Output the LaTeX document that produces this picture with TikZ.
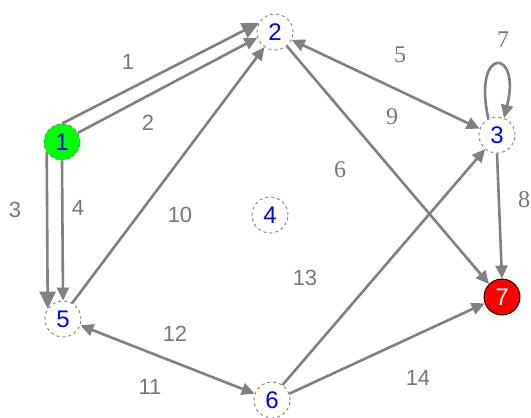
\documentclass[tikz,border=0pt]{standalone}
\usepackage{fontspec}
\setmainfont{Liberation Serif}
\setsansfont{Liberation Sans}
\usepackage{tikz}
\usetikzlibrary{arrows.meta, positioning}
\definecolor{edgegray}{RGB}{128,128,128}
\definecolor{labgray}{RGB}{120,120,120}
\definecolor{numblue}{RGB}{0,0,255}
\definecolor{startgreen}{RGB}{0,255,0}
\definecolor{endred}{RGB}{255,0,0}
\tikzset{
  vertex/.style={circle, draw=edgegray, dashed, fill=white,
    minimum size=36pt, inner sep=0pt, text=numblue,
    font=\sffamily\fontsize{24}{24}\selectfont, line width=0.9pt},
  startvertex/.style={vertex, fill=startgreen},
  endvertex/.style={vertex, fill=endred, draw=black, solid, text=white},
  arrow/.style={-{Triangle[length=13pt, width=12pt]}, line width=2.6pt, color=edgegray},
  bigarrow/.style={-{Triangle[length=17pt, width=16pt]}, line width=2.6pt, color=edgegray},
  biarrow/.style={{Triangle[length=13pt, width=12pt]}-{Triangle[length=13pt, width=12pt]},
    line width=2.6pt, color=edgegray},
  slab/.style={text=labgray, font=\sffamily\fontsize{22}{22}\selectfont},
  rlab/.style={text=labgray, font=\rmfamily\fontsize{24}{24}\selectfont}
}

\begin{document}
\begin{tikzpicture}[x=1pt, y=-1pt]
  \useasboundingbox (0,0) rectangle (531,418);

  % vertices
  \node[startvertex] (n1) at (62,142) {1};
  \node[vertex] (n2) at (275,32) {2};
  \node[vertex] (n3) at (497,135) {3};
  \node[vertex] (n4) at (270,215) {4};
  \node[vertex] (n5) at (63,319) {5};
  \node[vertex] (n6) at (272,400) {6};
  \node[endvertex] (n7) at (502,297) {7};

  % edges
  \draw[bigarrow] (n1.north) -- (n2.150);
  \draw[arrow] (n1.30) -- (n2.198);
  \draw[bigarrow] (n1.214) -- (n5.146);
  \draw[arrow] (n1.south) -- (n5.north);
  \draw[biarrow] (n2.-25) -- (n3.160);
  \draw[arrow] (n2.-50) -- (n7.135);
  \draw[arrow] (n3.118) .. controls (472,45) and (522,48) .. (n3.68);
  \draw[arrow] (n3.south) -- (n7.north);
  \draw[arrow] (n5.60) -- (n2.235);
  \draw[biarrow] (n5.-20) -- (n6.160);
  \draw[arrow] (n6.55) -- (n3.230);
  \draw[arrow] (n6.20) -- (n7.200);

  % edge labels
  \node[slab] (l1) at (128,62) {1};
  \node[slab] (l2) at (148,123) {2};
  \node[slab] (l3) at (15,210) {3};
  \node[slab] (l4) at (78,208) {4};
  \node[rlab] (l5) at (400,55) {5};
  \node[rlab] (l6) at (340,170) {6};
  \node[rlab] (l7) at (503,40) {7};
  \node[rlab] (l8) at (524,200) {8};
  \node[rlab] (l9) at (392,117) {9};
  \node[slab] (l10) at (180,215) {10};
  \node[slab] (l11) at (150,387) {11};
  \node[slab] (l12) at (175,334) {12};
  \node[slab] (l13) at (305,278) {13};
  \node[slab] (l14) at (418,378) {14};
\end{tikzpicture}
\end{document}
